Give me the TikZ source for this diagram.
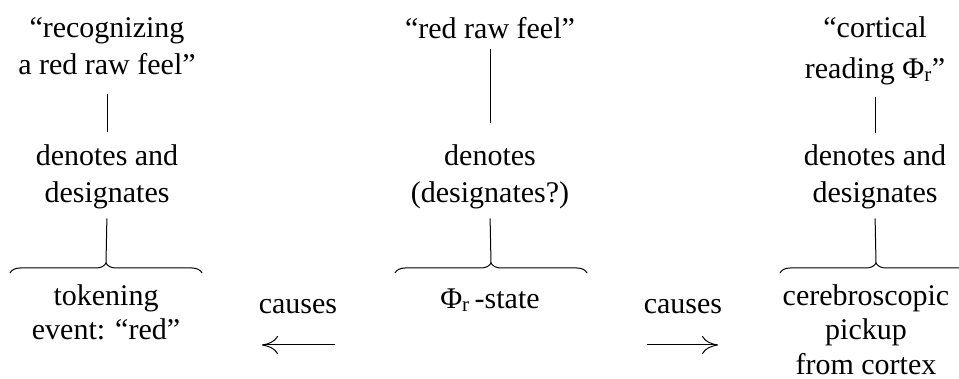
\documentclass[tikz,border=0pt]{standalone}
\usepackage{fontspec}
\setmainfont{Liberation Serif}
\usetikzlibrary{decorations.pathreplacing,arrows.meta}
\tikzset{
  txt/.style={inner sep=0pt, align=center, anchor=north, font=\fontsize{30}{37}\selectfont},
  txtb/.style={txt, font=\fontsize{30}{34.5}\selectfont},
  link/.style={line width=1pt},
  bracket/.style={line width=1pt, decorate, decoration={brace, amplitude=10pt}},
  causearrow/.style={line width=1pt, -{To[length=16pt,width=18pt,line width=1pt]}}
}
\begin{document}
\begin{tikzpicture}[x=1pt,y=-1pt]
\path[use as bounding box] (0,0) rectangle (959,379);
% left column
\node[txt] (L1) at (107,11.1) {\strut“recognizing\\\strut a red raw feel”};
\node[txt] (L2) at (107,139.1) {\strut denotes and\\\strut designates};
\node[txtb] (L3) at (106,281) {\strut tokening\\\strut event: “red”};
\coordinate (Lb1) at (10,273);
\coordinate (Lb2) at (202,273);
\coordinate (Ltip) at (106,263);
\draw[link, shorten <=9pt, shorten >=7pt] (L1) -- (L2);
\draw[link, shorten <=5pt] (L2.south) -- (Ltip);
\draw[bracket] (Lb1) -- (Lb2);
% middle column
\node[txt] (M1) at (490,12.1) {\strut“red raw feel”};
\node[txt] (M2) at (490,139.1) {\strut denotes\\\strut(designates?)};
\node[txt] (M3) at (490,282) {\strut Φ\textsubscript{r}\,-state};
\coordinate (Mb1) at (395,273);
\coordinate (Mb2) at (587,273);
\coordinate (Mtip) at (491,263);
\draw[link, shorten <=0pt, shorten >=16pt] (M1) -- (M2);
\draw[link, shorten <=5pt] (M2.south) -- (Mtip);
\draw[bracket] (Mb1) -- (Mb2);
% right column
\node[txt] (R1) at (875,11.1) {\strut“cortical\\[4pt]\strut reading Φ\textsubscript{r}”};
\node[txt] (R2) at (875,139.1) {\strut denotes and\\\strut designates};
\node[txtb] (R3) at (866,281) {\strut cerebroscopic\\\strut pickup\\from cortex};
\coordinate (Rb1) at (780,273);
\coordinate (Rb2) at (972,273);
\coordinate (Rtip) at (876,263);
\draw[link, shorten <=8pt, shorten >=6pt] (R1) -- (R2);
\draw[link, shorten <=5pt] (R2.south) -- (Rtip);
\draw[bracket] (Rb1) -- (Rb2);
% causes
\node[txt] (C1) at (298,287.1) {\strut causes};
\node[txt] (C2) at (683,287.1) {\strut causes};
\coordinate (A1s) at (335,345);
\coordinate (A1e) at (262,345);
\coordinate (A2s) at (647,345);
\coordinate (A2e) at (718,345);
\draw[causearrow] (A1s) -- (A1e);
\draw[causearrow] (A2s) -- (A2e);
\end{tikzpicture}
\end{document}
